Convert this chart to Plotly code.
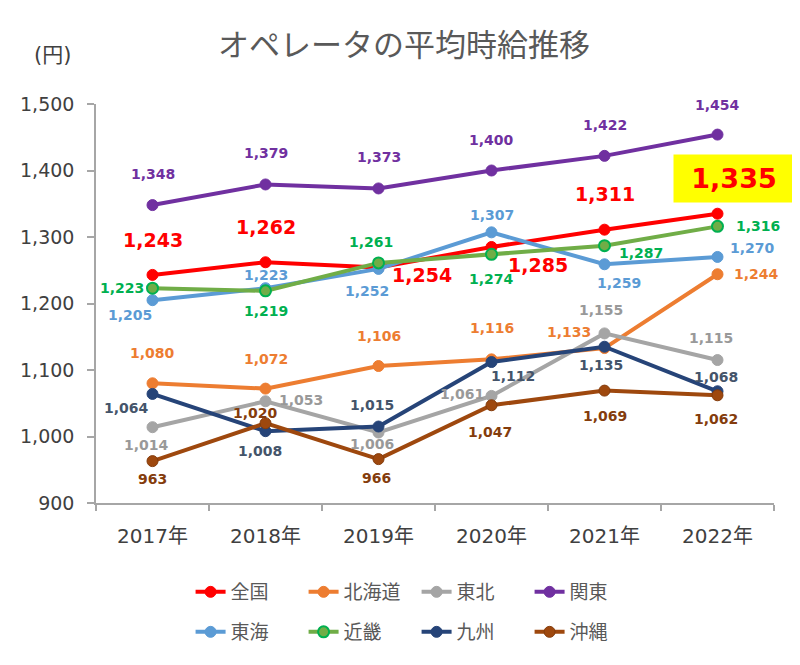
import plotly.graph_objects as go

years = ["2017年", "2018年", "2019年", "2020年", "2021年", "2022年"]

zenkoku = [1243, 1262, 1254, 1285, 1311, 1335]
hokkaido = [1080, 1072, 1106, 1116, 1133, 1244]
tohoku = [1014, 1053, 1006, 1061, 1155, 1115]
kanto = [1348, 1379, 1373, 1400, 1422, 1454]
tokai = [1205, 1223, 1252, 1307, 1259, 1270]
kinki = [1223, 1219, 1261, 1274, 1287, 1316]
kyushu = [1064, 1008, 1015, 1112, 1135, 1068]
okinawa = [963, 1020, 966, 1047, 1069, 1062]

FONT = "DejaVu Sans, Noto Sans CJK JP, sans-serif"

# page offset (default body margin of the html page)
OFF = 8
W, H = 800 - OFF, 665 - OFF
L, R, T, B = 93 - OFF, 26, 104 - OFF, 162
PW, PH = W - L - R, H - T - B


def px(xp):
    return (xp - OFF - L) / PW


def py(yp):
    return (H - B - (yp - OFF)) / PH


# name, values, line color, marker fill, marker outline, label color, label offsets (dx, dy px; dy up)
series = [
    ("全国", zenkoku, "#FF0000", "#FF0000", "#FF0000", "#FF0000",
     [(0, 35), (0, 35), (43, -7), (46, -18), (0, 36), (16, 35)]),
    ("北海道", hokkaido, "#ED7D31", "#ED7D31", "#ED7D31", "#ED7D31",
     [(0, 30), (0, 30), (0, 30), (0, 31), (-36, 16), (39, 0)]),
    ("東北", tohoku, "#A5A5A5", "#A5A5A5", "#A5A5A5", "#999999",
     [(-6, -18), (35, 1), (-7, -11), (-30, 2), (-4, 23), (-7, 22)]),
    ("関東", kanto, "#7030A0", "#7030A0", "#7030A0", "#7030A0",
     [(0, 31), (0, 31), (0, 31), (0, 31), (0, 31), (0, 30)]),
    ("東海", tokai, "#5B9BD5", "#5B9BD5", "#5B9BD5", "#5B9BD5",
     [(-23, -15), (0, 13), (-12, -22), (0, 17), (14, -19), (35, 9)]),
    ("近畿", kinki, "#70AD47", "#70AD47", "#00B050", "#00B050",
     [(-31, 0), (0, -20), (-8, 21), (0, -25), (36, -7), (40, 0)]),
    ("九州", kyushu, "#264478", "#264478", "#264478", "#44546A",
     [(-26, -14), (-6, -20), (-7, 22), (21, -14), (-4, -18), (-2, 14)]),
    ("沖縄", okinawa, "#9E480E", "#9E480E", "#843C0C", "#843C0C",
     [(0, -18), (-10, 10), (-2, -19), (-2, -27), (0, -25), (-2, -24)]),
]

fig = go.Figure()
annotations = []
for i, (name, vals, lc, mf, ml, tc, offs) in enumerate(series):
    fig.add_trace(go.Scatter(
        x=years, y=vals, name=name, mode="lines+markers",
        line=dict(color=lc, width=4),
        marker=dict(size=11, color=mf, line=dict(color=ml, width=2 if name == "近畿" else 1)),
        legend="legend" if i < 4 else "legend2",
    ))
    for j, (yr, v) in enumerate(zip(years, vals)):
        dx, dy = offs[j]
        if name == "全国" and j == len(vals) - 1:
            annotations.append(dict(
                x=yr, y=v, xref="x", yref="y", text=f"{v:,}", showarrow=False,
                xshift=dx, yshift=dy, bgcolor="#FFFF00", width=118, height=45,
                font=dict(family=FONT, size=27, color=tc, weight="bold")))
        else:
            size = 19 if name == "全国" else 14
            annotations.append(dict(
                x=yr, y=v, xref="x", yref="y", text=f"{v:,}", showarrow=False,
                xshift=dx, yshift=dy,
                font=dict(family=FONT, size=size, color=tc, weight="bold")))

annotations.append(dict(
    x=px(49), y=py(55), xref="paper", yref="paper", text="(円)", showarrow=False,
    xanchor="center", yanchor="middle",
    font=dict(family=FONT, size=21, color="#404040")))

axis_color = "#A6A6A6"
tick_font = dict(family=FONT, size=19, color="#404040")

legend_common = dict(
    orientation="h", xanchor="left", yanchor="middle",
    font=dict(family=FONT, size=19, color="#595959"),
    entrywidth=68, entrywidthmode="pixels", itemwidth=30,
    bgcolor="rgba(0,0,0,0)", tracegroupgap=0,
)

fig.update_layout(
    width=W, height=H,
    margin=dict(l=L, r=R, t=T, b=B),
    paper_bgcolor="white", plot_bgcolor="white",
    title=dict(text="オペレータの平均時給推移", x=0.5, xanchor="center", y=1 - (45 - OFF) / H, yanchor="middle",
               font=dict(family=FONT, size=31, color="#595959")),
    xaxis=dict(type="category", categoryorder="array", categoryarray=years,
               range=[-0.5, 5.5], showline=True, linecolor=axis_color, linewidth=1.5,
               ticks="outside", tickson="boundaries", ticklen=6, tickcolor=axis_color, tickwidth=1.5,
               showgrid=False, zeroline=False, tickfont=dict(family=FONT, size=20, color="#404040"),
               ticklabelstandoff=14),
    yaxis=dict(range=[900, 1500], dtick=100, tick0=900, tickformat=",",
               showline=True, linecolor=axis_color, linewidth=1.5,
               ticks="outside", ticklen=7, tickcolor=axis_color, tickwidth=1.5,
               showgrid=False, zeroline=False, tickfont=tick_font, ticklabelstandoff=9),
    legend=dict(x=px(188), y=py(592), **legend_common),
    legend2=dict(x=px(188), y=py(632), **legend_common),
    annotations=annotations,
    showlegend=True,
)

fig.write_html("out.html")
